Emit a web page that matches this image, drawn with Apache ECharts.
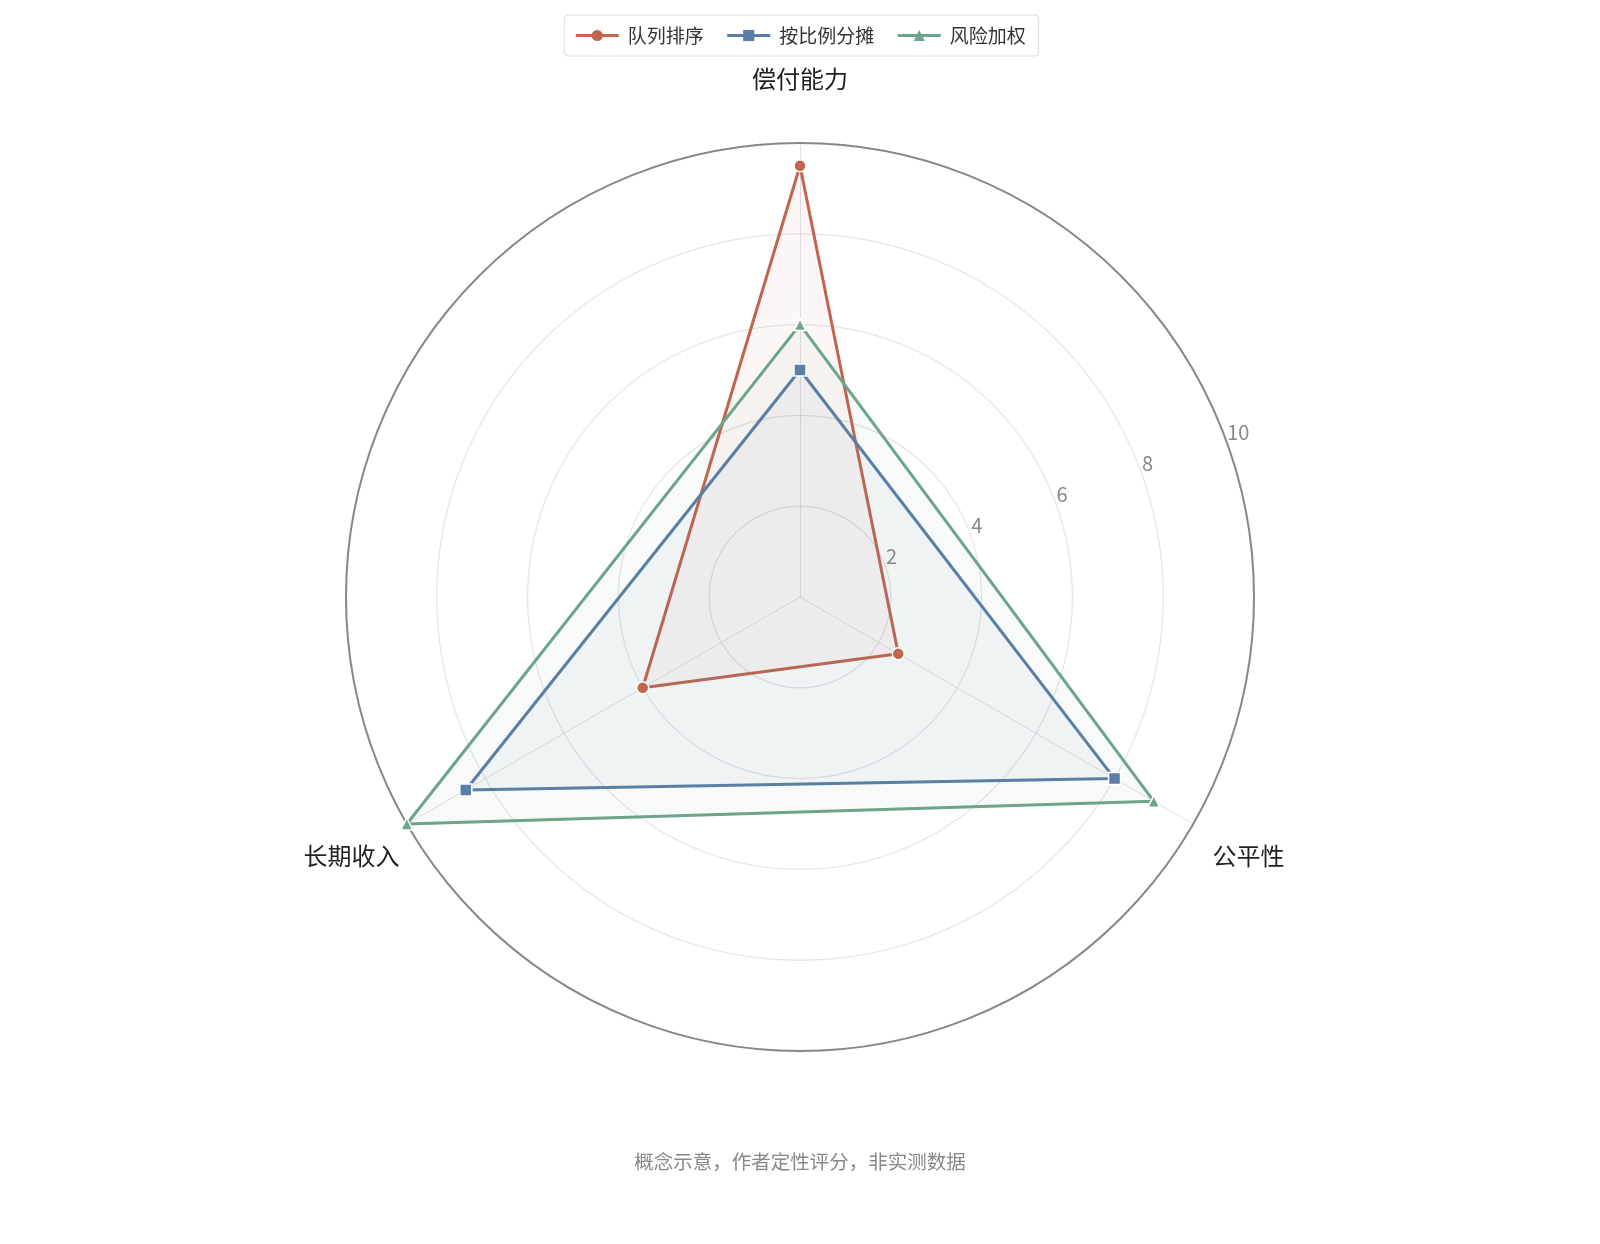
<!DOCTYPE html>
<html>
<head>
<meta charset="utf-8">
<script src="https://cdn.jsdelivr.net/npm/echarts@6/dist/echarts.min.js"></script>
<style>
html,body{margin:0;padding:0;background:#fff;}
#main{width:1600px;height:1244px;}
</style>
</head>
<body>
<div id="main"></div>
<script>
// Indicators in ECharts order (counter-clockwise from top)
const indicators = ['偿付能力', '长期收入', '公平性'];
const seriesNames = ['队列排序', '按比例分摊', '风险加权'];
const queueValues = [9.5, 4.0, 2.5];
const proportionalValues = [5.0, 8.5, 8.0];
const riskValues = [6.0, 10.0, 9.0];
const radiusMax = 10;
const radiusInterval = 2;
const footnote = '概念示意，作者定性评分，非实测数据';

const colors = ['#c1654e', '#5a7ea6', '#6ca589'];
const symbols = ['circle', 'rect', 'triangle'];
const valueSets = [queueValues, proportionalValues, riskValues];
const FONT = '"Noto Sans CJK SC", "Noto Sans", sans-serif';
const CX = 800, CY = 597, R = 454;

const chart = echarts.init(document.getElementById('main'));

const legendSeries = seriesNames.map((n, i) => ({
  name: n, type: 'line', data: [], xAxisIndex: 0, yAxisIndex: 0,
  symbol: symbols[i], symbolSize: 11,
  lineStyle: { color: colors[i], width: 3 },
  itemStyle: { color: colors[i] }
}));

const radarSeries = {
  type: 'radar',
  radarIndex: 0,
  z: 3,
  data: seriesNames.map((n, i) => ({
    name: n,
    value: valueSets[i],
    symbol: symbols[i],
    symbolSize: 12,
    lineStyle: { color: colors[i], width: 3 },
    itemStyle: { color: colors[i], borderColor: '#fff', borderWidth: 1.5 },
    areaStyle: { color: colors[i], opacity: 0.05 }
  }))
};

chart.setOption({
  backgroundColor: '#fff',
  textStyle: { fontFamily: FONT },
  animation: false,
  title: {
    text: footnote, left: 'center', top: 1147,
    textStyle: { fontSize: 19.5, color: '#888', fontWeight: 'normal', fontFamily: FONT }
  },
  legend: {
    top: 15, left: 'center',
    data: seriesNames,
    itemWidth: 43, itemHeight: 14, itemGap: 22,
    padding: [11, 13, 11, 10],
    borderColor: '#dcdcdc', borderWidth: 1, borderRadius: 4,
    lineStyle: { width: 3 },
    textStyle: { fontSize: 19, color: '#333', fontFamily: FONT, padding: [0, 0, 0, 4] }
  },
  grid: { show: false, left: 0, top: 0, width: 1, height: 1 },
  xAxis: { show: false, type: 'value' },
  yAxis: { show: false, type: 'value' },
  polar: { center: [CX, CY], radius: R },
  angleAxis: {
    type: 'value', min: 0, max: 360, startAngle: 20, z: 1,
    axisLine: { show: true, lineStyle: { color: '#888', width: 2 } },
    axisTick: { show: false }, axisLabel: { show: false }, splitLine: { show: false }
  },
  radiusAxis: {
    type: 'value', min: 0, max: radiusMax, interval: radiusInterval, z: 0,
    axisLine: { show: false }, axisTick: { show: false }, splitLine: { show: false },
    axisLabel: {
      color: '#888', fontSize: 20, fontFamily: FONT, margin: 10,
      align: 'left', verticalAlign: 'middle', padding: [0, 0, 0, 4],
      textBorderColor: '#fff', textBorderWidth: 3,
      formatter: v => (v === 0 ? '' : String(v))
    }
  },
  radar: {
    center: [CX, CY], radius: R, shape: 'circle', startAngle: 90,
    splitNumber: 5, nameGap: 64,
    indicator: indicators.map(n => ({ name: n, min: 0, max: radiusMax })),
    axisName: { color: '#222', fontSize: 24, fontFamily: FONT, align: 'center', verticalAlign: 'middle' },
    axisLine: { lineStyle: { color: '#e2e2e2', width: 1 } },
    splitLine: { lineStyle: { color: '#e2e4e7', width: 1.2 } },
    splitArea: { show: false },
    axisLabel: { show: false }
  },
  series: legendSeries.concat([radarSeries])
});
</script>
</body>
</html>
